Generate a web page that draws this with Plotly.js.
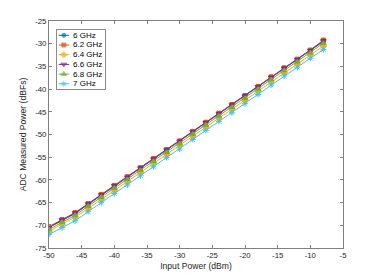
<!DOCTYPE html>
<html>
<head>
<meta charset="utf-8">
<script src="https://cdn.plot.ly/plotly-3.0.1.min.js"></script>
<style>
html,body{margin:0;padding:0;background:#fff;}
#chart{width:379px;height:279px;}
</style>
</head>
<body>
<div id="chart"></div>
<script>
// ---- data ----
const inputPower = [-50,-48,-46,-44,-42,-40,-38,-36,-34,-32,-30,-28,-26,-24,-22,-20,-18,-16,-14,-12,-10,-8];
const seriesNames = ["6 GHz","6.2 GHz","6.4 GHz","6.6 GHz","6.8 GHz","7 GHz"];
const p6_0 = [-70.5,-68.9,-67.4,-65.4,-63.4,-61.4,-59.5,-57.5,-55.5,-53.5,-51.6,-49.5,-47.5,-45.5,-43.6,-41.6,-39.6,-37.5,-35.5,-33.6,-31.6,-29.5];
const p6_2 = [-70.3,-68.7,-67.2,-65.2,-63.2,-61.2,-59.3,-57.3,-55.3,-53.3,-51.4,-49.3,-47.3,-45.3,-43.4,-41.4,-39.4,-37.3,-35.3,-33.4,-31.4,-29.2];
const p6_4 = [-71.3,-69.8,-68.2,-66.3,-64.3,-62.3,-60.4,-58.4,-56.4,-54.4,-52.5,-50.4,-48.4,-46.4,-44.5,-42.5,-40.5,-38.4,-36.4,-34.5,-32.5,-30.5];
const p6_6 = [-70.4,-68.8,-67.3,-65.3,-63.3,-61.3,-59.4,-57.4,-55.4,-53.4,-51.5,-49.4,-47.4,-45.4,-43.5,-41.5,-39.5,-37.4,-35.4,-33.5,-31.5,-29.4];
const p6_8 = [-70.9,-69.3,-67.8,-65.8,-63.8,-61.8,-59.9,-57.9,-55.9,-53.9,-52.0,-49.9,-47.9,-45.9,-44.0,-42.0,-40.0,-37.9,-35.9,-34.0,-32.0,-29.9];
const p7_0 = [-72.0,-70.5,-69.0,-67.0,-65.0,-63.0,-61.1,-59.1,-57.1,-55.1,-53.2,-51.1,-49.1,-47.1,-45.2,-43.2,-41.2,-39.1,-37.1,-35.2,-33.2,-31.3];
const xTickVals = [-50,-45,-40,-35,-30,-25,-20,-15,-10,-5];
const xTickText = ["-50","-45","-40","-35","-30","-25","-20","-15","-10","-5"];
const yTickVals = [-75,-70,-65,-60,-55,-50,-45,-40,-35,-30,-25];
const yTickText = ["-75","-70","-65","-60","-55","-50","-45","-40","-35","-30","-25"];
const xLabel = "Input Power (dBm)";
const yLabel = "ADC Measured Power (dBFs)";

// ---- styles ----
const allSeries = [p6_0,p6_2,p6_4,p6_6,p6_8,p7_0];
const colors = ["#0072BD","#D95319","#EDB120","#7E2F8E","#77AC30","#4DBEEE"];
const symbols = ["circle","square","diamond","triangle-down","triangle-up","asterisk-open"];
const msize = [4,4,5,5,5,5];
const FONT = "Liberation Sans, Arial, Helvetica, sans-serif";
const AX = "#262626";

const traces = [];
allSeries.forEach((ys,i)=>{
  traces.push({
    x: inputPower, y: ys, name: seriesNames[i], type:"scatter", mode:"lines+markers",
    line:{color:colors[i], width:1},
    marker:{symbol:symbols[i], size:msize[i], color:colors[i], line:{color:colors[i], width:1}},
    showlegend:false, xaxis:"x", yaxis:"y"
  });
});

// custom MATLAB-style legend drawn in its own small axes
const legW = 47.2, legH = 59.3, rowGap = 9.7, row0 = 5.3;
const annotations = [];
seriesNames.forEach((nm,i)=>{
  const yy = row0 + rowGap*i;
  traces.push({
    x:[1.4, 6.5, 11.9], y:[yy,yy,yy], type:"scatter", mode:"lines+markers",
    line:{color:colors[i], width:1},
    marker:{symbol:symbols[i], size:[0,msize[i],0], color:colors[i], line:{color:colors[i], width:[0,1,0]}},
    showlegend:false, hoverinfo:"skip", xaxis:"x2", yaxis:"y2"
  });
  annotations.push({
    x:13.2, y:yy, xref:"x2", yref:"y2", text:nm, showarrow:false,
    xanchor:"left", yanchor:"middle", font:{family:FONT, size:8, color:"#000"}
  });
});

const W = 379, H = 279, L = 49, R = 36, T = 21, B = 31;
const pw = W-L-R, ph = H-T-B;
const lx0 = 57.3, ly0 = 30;
const layout = {
  width:W, height:H,
  margin:{l:L, r:R, t:T, b:B, pad:0},
  paper_bgcolor:"#fff", plot_bgcolor:"#fff",
  font:{family:FONT, size:8, color:AX},
  showlegend:false,
  xaxis:{
    range:[-50,-5], tickvals:xTickVals, ticktext:xTickText,
    showline:true, linecolor:"#808080", linewidth:1, mirror:"ticks",
    ticks:"inside", ticklen:3, tickcolor:"#808080", tickwidth:1,
    showgrid:false, zeroline:false, tickfont:{size:7.8, color:AX},
    title:{text:xLabel, font:{size:8.6, color:AX}, standoff:3},
    automargin:false
  },
  yaxis:{
    range:[-75,-25], tickvals:yTickVals, ticktext:yTickText,
    showline:true, linecolor:"#808080", linewidth:1, mirror:"ticks",
    ticks:"inside", ticklen:3, tickcolor:"#808080", tickwidth:1,
    showgrid:false, zeroline:false, tickfont:{size:7.8, color:AX},
    title:{text:yLabel, font:{size:8.6, color:AX}, standoff:7},
    automargin:false
  },
  xaxis2:{
    domain:[(lx0-L)/pw, (lx0+legW-L)/pw], range:[0,legW], anchor:"y2",
    showline:true, mirror:true, linecolor:"#8a8a8a", linewidth:1,
    showticklabels:false, ticks:"", showgrid:false, zeroline:false, fixedrange:true
  },
  yaxis2:{
    domain:[(H-B-(ly0+legH))/ph, (H-B-ly0)/ph], range:[legH,0], anchor:"x2",
    showline:true, mirror:true, linecolor:"#8a8a8a", linewidth:1,
    showticklabels:false, ticks:"", showgrid:false, zeroline:false, fixedrange:true
  },
  annotations:annotations
};

Plotly.newPlot("chart", traces, layout, {displayModeBar:false, staticPlot:true});
</script>
</body>
</html>
